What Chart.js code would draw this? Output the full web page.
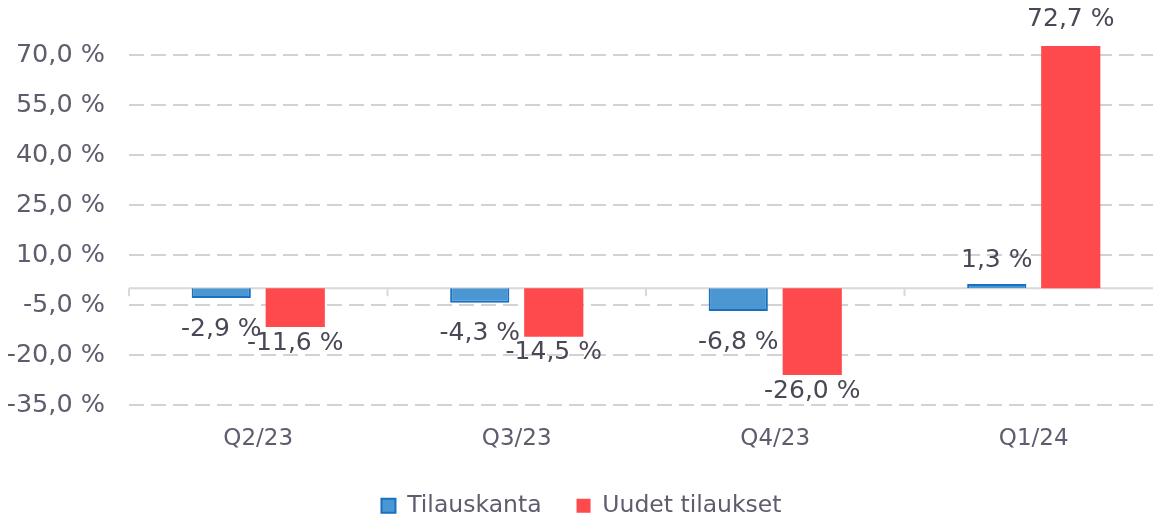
<!DOCTYPE html>
<html>
<head>
<meta charset="utf-8">
<script src="https://cdn.jsdelivr.net/npm/chart.js@4/dist/chart.umd.min.js"></script>
<style>
  html, body { margin: 0; padding: 0; background: #fff; overflow: hidden; }
</style>
</head>
<body>
<canvas id="ordersChart" width="1163" height="517"></canvas>
<script>
var quarters = ["Q2/23", "Q3/23", "Q4/23", "Q1/24"];
var tilauskanta = [-2.9, -4.3, -6.8, 1.3];
var uudetTilaukset = [-11.6, -14.5, -26.0, 72.7];
var yMin = -35, yMax = 85, yStep = 15, yLastTick = 70;

var fontName = "'DejaVu Sans', Verdana, sans-serif";
var axisColor = "#5d5d6e";
var labelColor = "#484856";

function pct(v) {
    return v.toFixed(1).replace(".", ",") + " %";
}

// zero line with the little category ticks under it
var zeroLine = {
    id: "zeroLine",
    beforeDatasetsDraw: function (chart) {
        var ctx = chart.ctx;
        var area = chart.chartArea;
        var y0 = chart.scales.y.getPixelForValue(0);
        var n = quarters.length;
        ctx.save();
        ctx.strokeStyle = "#d9d9d9";
        ctx.lineWidth = 2;
        ctx.beginPath();
        ctx.moveTo(area.left, y0);
        ctx.lineTo(area.right, y0);
        for (var i = 0; i <= n; i++) {
            var x = area.left + i * (area.right - area.left) / n;
            ctx.moveTo(x, y0);
            ctx.lineTo(x, y0 + 8);
        }
        ctx.stroke();
        ctx.restore();
    }
};

// value labels at the end of each bar
var barLabels = {
    id: "barLabels",
    afterDraw: function (chart) {
        var ctx = chart.ctx;
        ctx.save();
        ctx.font = "25px " + fontName;
        ctx.fillStyle = labelColor;
        ctx.textAlign = "center";
        ctx.textBaseline = "middle";
        chart.data.datasets.forEach(function (ds, di) {
            var meta = chart.getDatasetMeta(di);
            meta.data.forEach(function (bar, i) {
                var v = ds.data[i];
                var y = v >= 0 ? bar.y - ds.gapUp : bar.y + ds.gapDown;
                ctx.fillText(pct(v), bar.x, y);
            });
        });
        ctx.restore();
    }
};

var ctx = document.getElementById("ordersChart").getContext("2d");
var chart = new Chart(ctx, {
    type: "bar",
    data: {
        labels: quarters,
        datasets: [{
            label: "Tilauskanta",
            data: tilauskanta,
            backgroundColor: "#4a97d3",
            borderColor: "#1a6fc1",
            borderWidth: 2,
            gapUp: 24,
            gapDown: 31
        }, {
            label: "Uudet tilaukset",
            data: uudetTilaukset,
            backgroundColor: "#ff4a4d",
            borderWidth: 0,
            gapUp: 27,
            gapDown: 16
        }]
    },
    options: {
        responsive: false,
        animation: false,
        categoryPercentage: 0.5725,
        barPercentage: 0.8,
        layout: { padding: { top: 5, left: 0, right: 0, bottom: 0 } },
        plugins: {
            tooltip: { enabled: false },
            legend: {
                position: "bottom",
                maxHeight: 58,
                labels: {
                    boxWidth: 14,
                    boxHeight: 14,
                    padding: 35,
                    color: axisColor,
                    font: { family: fontName, size: 23.5 }
                }
            }
        },
        scales: {
            x: {
                grid: { display: false },
                border: { display: false },
                ticks: {
                    color: axisColor,
                    padding: 12,
                    font: { family: fontName, size: 23 }
                },
                afterFit: function (s) { s.height = 54; }
            },
            y: {
                min: yMin,
                max: yMax,
                z: 1,
                grid: { color: "#d2d2d2", lineWidth: 2, drawTicks: false },
                border: { display: false, dash: [15, 7] },
                ticks: {
                    stepSize: yStep,
                    padding: 24,
                    color: axisColor,
                    font: { family: fontName, size: 25.5 },
                    callback: function (v) { return pct(v); }
                },
                afterBuildTicks: function (s) {
                    s.ticks = s.ticks.filter(function (t) { return t.value <= yLastTick; });
                },
                afterFit: function (s) {
                    s.width = 129;
                    s.paddingTop = 0;
                    s.paddingBottom = 0;
                }
            }
        }
    },
    plugins: [zeroLine, barLabels]
});
</script>
</body>
</html>
